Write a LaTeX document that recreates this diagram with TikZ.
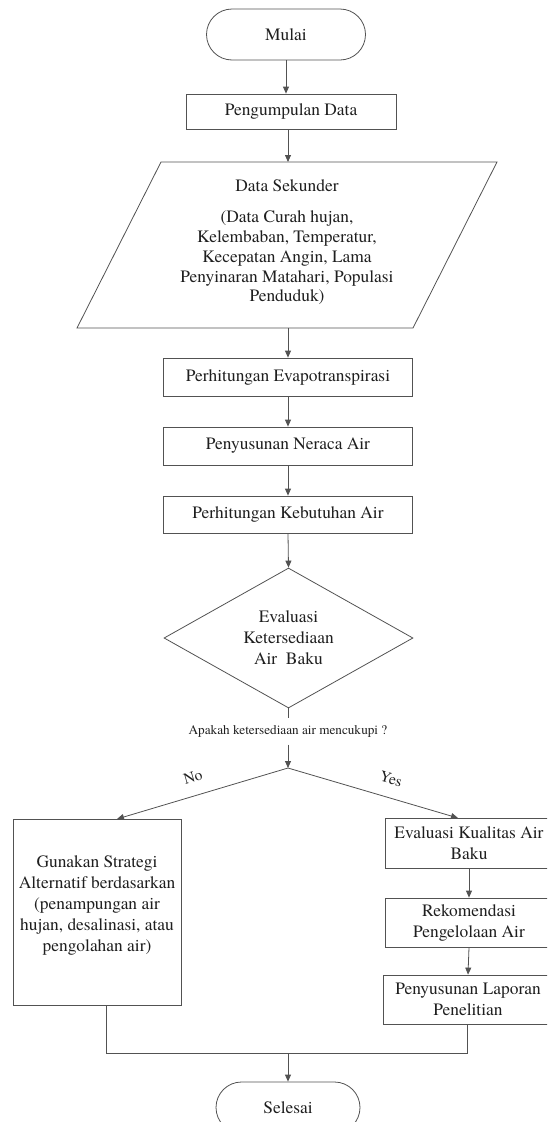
\documentclass[tikz,border=0pt]{standalone}
\usepackage{fontspec}
\setmainfont{TeX Gyre Termes}
\usetikzlibrary{shapes.geometric,shapes.misc,arrows.meta}
\begin{document}
\begin{tikzpicture}[x=1pt,y=-1pt,
  every node/.style={font=\rmfamily\fontsize{17.4}{21}\selectfont, text=black!88, inner sep=0pt},
  line/.style={draw=black!68, line width=0.8pt},
  arr/.style={line, -{Triangle[length=7pt,width=6pt]}},
  proc/.style={rectangle, line, align=center},
  term/.style={rounded rectangle, line, align=center},
  small/.style={font=\rmfamily\fontsize{13.2}{15}\selectfont},
  branch/.style={font=\rmfamily\fontsize{15.5}{16}\selectfont}
]
\useasboundingbox (0,0) rectangle (547,1122);
\clip (0,0) rectangle (547,1122);

% start
\node[term, minimum width=159pt, minimum height=51pt] (mulai) at (286,34.5) {Mulai};
\node[proc, minimum width=210pt, minimum height=35pt] (data) at (291,111.5) {Pengumpulan Data};
\draw[arr] (mulai.south) -- (mulai.south |- data.north);

% parallelogram (data sekunder)
\draw[line] (161,162) -- (497,162) -- (413,328) -- (77,328) -- cycle;
\coordinate (sekT) at (288,162);
\coordinate (sekB) at (288,328);
\node[align=center, font=\rmfamily\fontsize{17.4}{19.75}\selectfont] (sek) at (287,242) {Data Sekunder\\[12pt](Data Curah hujan,\\Kelembaban, Temperatur,\\Kecepatan Angin, Lama\\Penyinaran Matahari, Populasi\\Penduduk)};
\draw[arr] (data.south -| sekT) -- (sekT);

% processes
\node[proc, minimum width=249pt, minimum height=38pt] (evap) at (288,377) {Perhitungan Evapotranspirasi};
\node[proc, minimum width=249pt, minimum height=38pt] (neraca) at (288,446) {Penyusunan Neraca Air};
\node[proc, minimum width=249pt, minimum height=37pt] (kebut) at (288,514.5) {Perhitungan Kebutuhan Air};
\draw[arr] (sekB) -- (evap.north);
\draw[arr] (evap.south) -- (neraca.north);
\draw[arr] (neraca.south) -- (kebut.north);

% decision
\node[diamond, line, minimum width=249pt, minimum height=140pt, aspect=1.78, align=center] (dia) at (288.5,638) {Evaluasi\\Ketersediaan\\Air\ \ Baku};
\draw[arr] (kebut.south) -- (dia.north);
\coordinate (stub) at (288.5,718);
\draw[line] (dia.south) -- (stub);
\node[small] (q) at (288,731.5) {Apakah ketersediaan air mencukupi ?};
\coordinate (br) at (288,768);
\draw[arr] ([yshift=-7pt]q.south) -- (br);

% branches
\coordinate (lt) at (117,819);
\coordinate (rt) at (458,818);
\draw[arr] (br) -- (lt);
\draw[arr] (br) -- (rt);
\node[branch, rotate=16] (no) at (193,777) {No};
\node[branch, rotate=-16] (yes) at (391,779) {Yes};

% left branch
\node[proc, minimum width=168pt, minimum height=186pt] (lbox) at (97,912) {};
\node[align=center] (ltxt) at (97,905.5) {Gunakan Strategi\\Alternatif berdasarkan\\(penampungan air\\hujan, desalinasi, atau\\pengolahan air)};

% right branch
\node[proc, minimum width=168pt, minimum height=50pt] (kual) at (469,843) {Evaluasi Kualitas Air\\Baku};
\node[proc, minimum width=168pt, minimum height=49pt] (rek) at (469,922.5) {Rekomendasi\\Pengelolaan Air};
\node[proc, minimum width=170pt, minimum height=49pt] (lap) at (468,999.5) {Penyusunan Laporan\\Penelitian};
\draw[arr] (kual.south) -- (rek.north);
\draw[arr] (rek.south) -- (lap.north);

% join and end
\coordinate (jl) at (106,1053);
\coordinate (jr) at (467,1053);
\coordinate (jm) at (288,1053);
\draw[line] (lbox.south -| jl) -- (jl) -- (jr) -- (lap.south -| jr);
\node[term, minimum width=144pt, minimum height=51pt] (sel) at (288,1107.5) {Selesai};
\draw[arr] (jm) -- (sel.north);
\end{tikzpicture}
\end{document}
